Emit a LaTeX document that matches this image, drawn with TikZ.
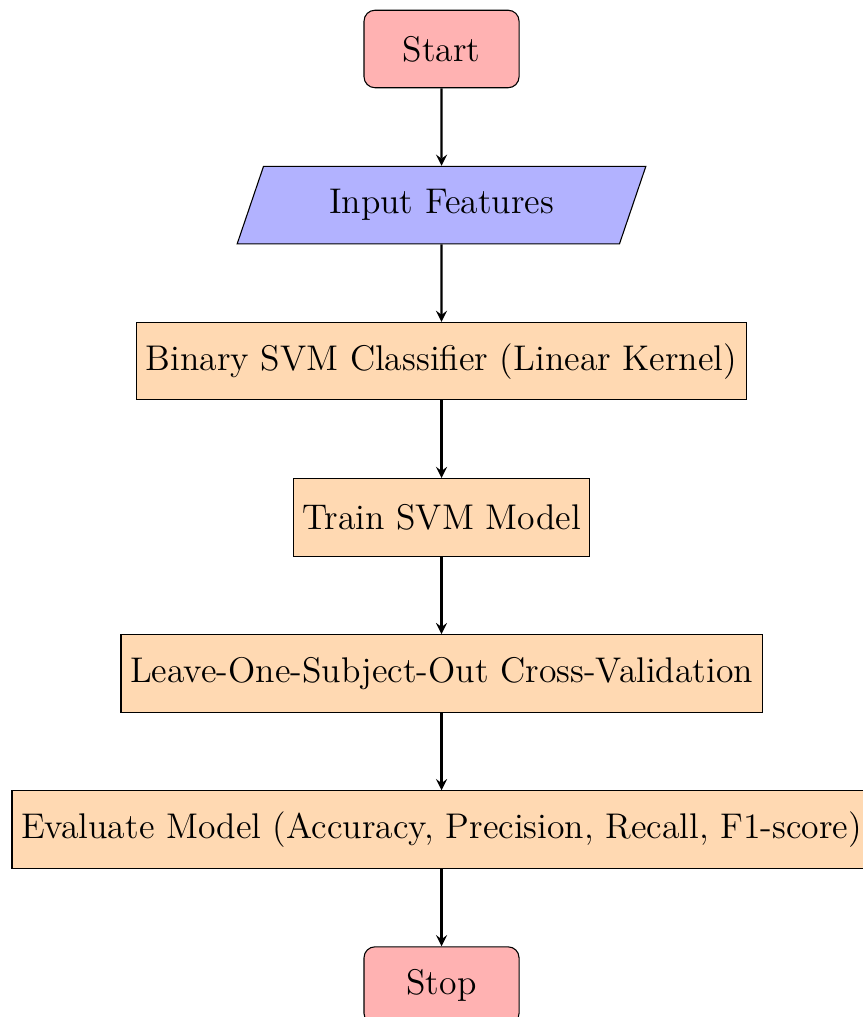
\documentclass[tikz,border=0pt]{standalone}
\usetikzlibrary{shapes.geometric,positioning,arrows}
\begin{document}
\begin{tikzpicture}[
  node distance=1cm,
  every node/.style={font=\fontsize{13.1pt}{15.5pt}\selectfont},
  startstop/.style={rectangle, rounded corners, minimum width=2cm, minimum height=1cm, text centered, draw=black, fill=red!30},
  io/.style={trapezium, trapezium left angle=70, trapezium right angle=110, trapezium stretches=true, minimum width=5.28cm, minimum height=1cm, text centered, draw=black, fill=blue!30},
  process/.style={rectangle, minimum width=2cm, minimum height=1cm, text centered, draw=black, fill=orange!30},
  arrow/.style={thick,->,>=stealth}
]
\useasboundingbox (-5.697,0.632) rectangle (5.426,-12.49);
\node (start) [startstop] at (0,0) {Start};
\node (in) [io, below=of start] {Input Features};
\node (svm) [process, below=of in] {Binary SVM Classifier (Linear Kernel)};
\node (train) [process, below=of svm] {Train SVM Model};
\node (loso) [process, below=of train] {Leave-One-Subject-Out Cross-Validation};
\node (eval) [process, below=of loso] {Evaluate Model (Accuracy, Precision, Recall, F1-score)};
\node (stop) [startstop, below=of eval] {Stop};
\draw [arrow] (start) -- (in);
\draw [arrow] (in) -- (svm);
\draw [arrow] (svm) -- (train);
\draw [arrow] (train) -- (loso);
\draw [arrow] (loso) -- (eval);
\draw [arrow] (eval) -- (stop);
\end{tikzpicture}
\end{document}
